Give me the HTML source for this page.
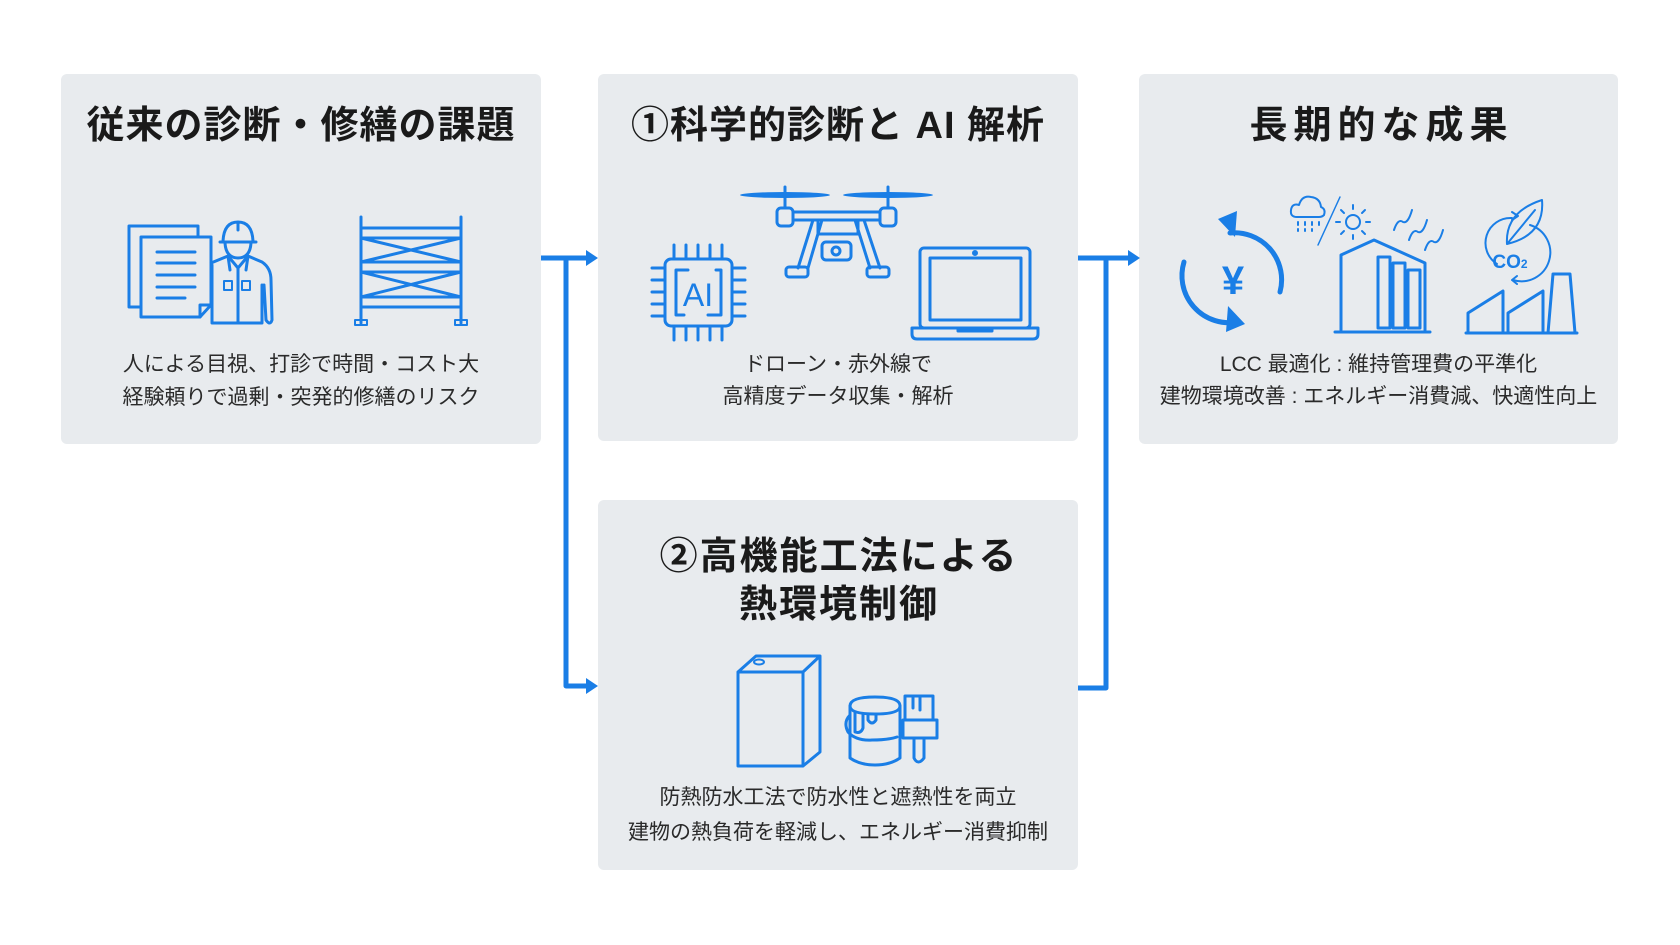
<!DOCTYPE html>
<html><head><meta charset="utf-8"><style>
html,body{margin:0;padding:0;background:#fff;}
body{width:1680px;height:945px;position:relative;overflow:hidden;font-family:"Liberation Sans","Noto Sans CJK JP",sans-serif;color:#222;}
.box{position:absolute;background:#e8ebee;border-radius:6px;}
.t{position:absolute;left:0;right:0;text-align:center;font-weight:bold;font-size:38px;white-space:nowrap;color:#1a1a1a;}
.d{position:absolute;left:0;right:0;text-align:center;font-size:21px;white-space:nowrap;color:#2a2a2a;}
svg{position:absolute;left:0;top:0;}
</style></head><body>
<div class="box" style="left:61px;top:74px;width:480px;height:370px">
 <div class="t" style="top:20px;letter-spacing:1px">従来の診断・修繕の課題</div>
 <div class="d" style="top:274px">人による目視、打診で時間・コスト大</div>
 <div class="d" style="top:307px">経験頼りで過剰・突発的修繕のリスク</div>
</div>
<div class="box" style="left:598px;top:74px;width:480px;height:367px">
 <div class="t" style="top:20px;letter-spacing:1px">①科学的診断と AI 解析</div>
 <div class="d" style="top:274px">ドローン・赤外線で</div>
 <div class="d" style="top:306px">高精度データ収集・解析</div>
</div>
<div class="box" style="left:1139px;top:74px;width:479px;height:370px">
 <div class="t" style="top:20px;letter-spacing:6px;text-indent:6px">長期的な成果</div>
 <div class="d" style="top:274px">LCC 最適化 : 維持管理費の平準化</div>
 <div class="d" style="top:306px">建物環境改善 : エネルギー消費減、快適性向上</div>
</div>
<div class="box" style="left:598px;top:500px;width:480px;height:370px">
 <div class="t" style="top:25px;letter-spacing:2px;text-indent:2px">②高機能工法による</div>
 <div class="t" style="top:73px;letter-spacing:2px;text-indent:2px">熱環境制御</div>
 <div class="d" style="top:281px">防熱防水工法で防水性と遮熱性を両立</div>
 <div class="d" style="top:316px">建物の熱負荷を軽減し、エネルギー消費抑制</div>
</div>
<svg width="1680" height="945" viewBox="0 0 1680 945" fill="none" stroke="#1a7ee6" stroke-width="3" stroke-linejoin="round" stroke-linecap="round">
 <g stroke-width="5" stroke-linecap="butt">
  <path d="M541 258H588"/><path d="M566 256V686H588"/>
  <path d="M1078 258H1130"/><path d="M1106 256V688H1078"/>
 </g>
 <g fill="#1a7ee6" stroke="none">
  <path d="M586 250L598 258L586 266Z"/><path d="M586 678L598 686L586 694Z"/>
  <path d="M1128 250L1140 258L1128 266Z"/>
 </g>
 <rect x="129" y="226" width="69" height="81"/>
 <path d="M141 237H211V305L200 317H141Z" fill="#e8ebee"/>
 <path d="M200 317V305H211"/>
 <path d="M157 252H195M157 263H195M157 275H195M157 287H195M157 298H185"/>
 <path d="M220 242H256M223 241Q224 222 238 222Q252 222 253 241M238 222V230"/>
 <path d="M225 243Q226 258 238 258Q250 258 251 243"/>
 <path d="M211 263L228 256L238 268L248 256L262 262Q271 268 271 280L272 320Q270 326 266 320L264 285M212 265V323H262V285M228 256L230 270M248 256L246 270M238 268V323"/>
 <rect x="224" y="281" width="8" height="9" stroke-width="2"/><rect x="242" y="281" width="8" height="9" stroke-width="2"/>
 <path d="M361 217V323M461 217V323M361 228H461M361 238H461M361 262H461M361 272H461M361 297H461M361 307H461M361 238L461 262M461 238L361 262M361 272L461 297M461 272L361 297"/>
 <rect x="355" y="320" width="12" height="5" stroke-width="2"/><rect x="455" y="320" width="12" height="5" stroke-width="2"/>
 <g fill="#1a7ee6" stroke="none"><ellipse cx="785" cy="195" rx="45" ry="3"/><ellipse cx="888" cy="195" rx="45" ry="3"/></g>
 <path d="M785 187V208M888 187V208"/>
 <rect x="777" y="208" width="16" height="18" rx="4"/><rect x="880" y="208" width="16" height="18" rx="4"/>
 <path d="M793 212H880M793 220H880"/>
 <path d="M813 220L798 268M822 220L808 268M855 220L870 268M864 220L880 268M818 220V234H858V220"/>
 <rect x="822" y="242" width="29" height="18" rx="4"/><circle cx="836" cy="251" r="4"/>
 <rect x="786" y="267" width="22" height="10" rx="3"/><rect x="867" y="267" width="22" height="10" rx="3"/>
 <rect x="665" y="259" width="67" height="67" rx="6"/>
 <path d="M676 270H688M676 270V315H684M721 270H716M721 270V315H708"/>
 <path d="M674 259V245M686 259V245M698 259V245M710 259V245M722 259V245M674 326V340M686 326V340M698 326V340M710 326V340M722 326V340M665 268H652M665 280H652M665 292H652M665 304H652M665 316H652M732 268H745M732 280H745M732 292H745M732 304H745M732 316H745"/>
 <text x="698" y="306" fill="#1a7ee6" stroke="none" font-size="32" font-family="Liberation Sans,sans-serif" text-anchor="middle">AI</text>
 <rect x="920" y="248" width="110" height="80" rx="4"/><rect x="930" y="258" width="91" height="62"/>
 <circle cx="975" cy="253" r="1.5" fill="#1a7ee6"/>
 <path d="M912 328H1038V334Q1038 339 1033 339H917Q912 339 912 334Z M958 328V331H992V328"/>
 <path d="M1230 233A47 47 0 0 1 1280 292" stroke-width="5"/><path d="M1237 322A47 47 0 0 1 1184 262" stroke-width="5"/>
 <g fill="#1a7ee6" stroke="none"><path d="M1218 219L1237 211L1235 237Z"/><path d="M1245 324L1226 332L1228 306Z"/></g>
 <text x="1233" y="294" fill="#1a7ee6" stroke="none" font-size="40" font-weight="bold" font-family="Liberation Sans,sans-serif" text-anchor="middle">¥</text>
 <path d="M1297 217Q1290 217 1291 210Q1292 203 1299 205Q1302 195 1311 197Q1320 198 1321 207Q1326 209 1324 215Q1322 217 1319 217Z" stroke-width="2"/>
 <path d="M1298 222V225M1305 222V225M1312 222V225M1319 222V225M1298 229V231M1305 229V231M1312 229V231" stroke-width="2"/>
 <path d="M1340 197L1318 245" stroke-width="1.5"/>
 <circle cx="1353" cy="222" r="7" stroke-width="2"/>
 <path d="M1353 209V205M1353 235V239M1340 222H1336M1366 222H1370M1344 213L1341 210M1362 213L1365 210M1344 231L1341 234M1362 231L1365 234" stroke-width="2"/>
 <path d="M1394 230Q1398 218 1403 222Q1408 224 1412 210M1409 240Q1413 228 1418 232Q1423 234 1427 220M1425 250Q1429 238 1434 242Q1439 244 1443 230" stroke-width="2"/>
 <path d="M1341 330V255L1374 240L1425 263V330M1335 332H1430"/>
 <path d="M1378 257H1390V328H1378ZM1393 263H1405V328H1393ZM1408 270H1420V328H1408Z"/>
 <path d="M1497 264A25 25 0 0 1 1512 218M1530 225A25 25 0 0 1 1513 280" stroke-width="2"/>
 <path d="M1512 212L1518 216L1512 220M1517 276L1512 280L1517 284" stroke-width="2"/>
 <path d="M1507 244Q1505 212 1542 200Q1545 235 1507 244ZM1507 244L1535 210" stroke-width="2"/>
 <text x="1510" y="268" fill="#1a7ee6" stroke="none" font-size="19" font-weight="bold" font-family="Liberation Sans,sans-serif" text-anchor="middle">CO<tspan font-size="12">2</tspan></text>
 <path d="M1468 333V313L1503 291V333ZM1508 333V313L1543 291V333ZM1548 333L1553 274H1570L1575 333ZM1466 333H1577"/>
 <path d="M738 672H803V766H738ZM738 672L756 656H820L803 672M820 656V752L803 766"/>
 <ellipse cx="759" cy="662" rx="5" ry="2.5" stroke-width="2"/>
 <path d="M850 706Q850 697 875 697Q900 697 900 706Q900 714 875 714Q850 714 850 706Z"/>
 <path d="M850 706V758Q860 765 875 765Q890 765 900 758V706M855 712V732Q861 734 863 728V714M868 714V720Q872 726 876 720V714"/>
 <path d="M850 715Q843 722 848 732Q856 741 872 740Q888 740 897 737"/>
 <path d="M905 696H933V720H905ZM913 696V708M920 696V710M903 720H937V738H903ZM914 738V758Q918 766 924 758V738"/>
</svg>
</body></html>
